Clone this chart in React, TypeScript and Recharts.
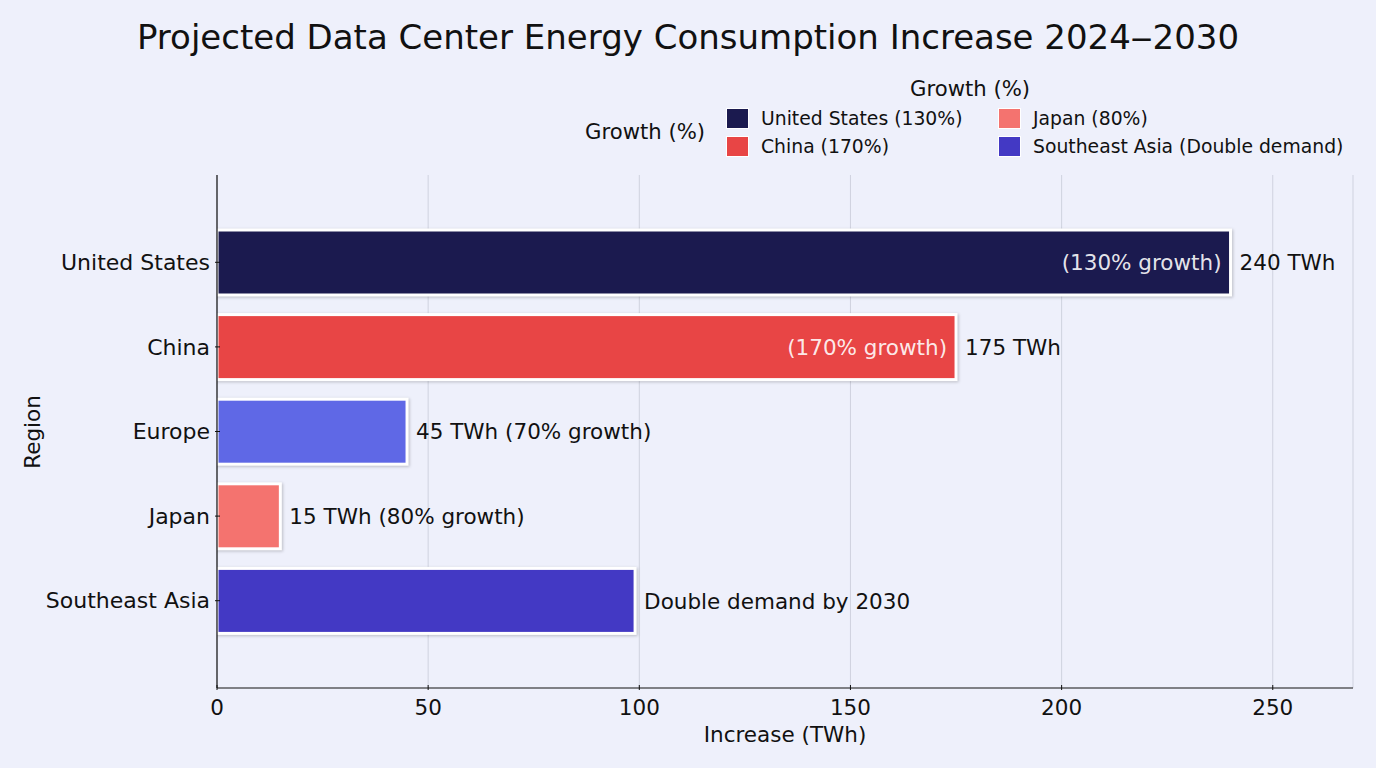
import React from 'react';
import {
  BarChart,
  Bar,
  XAxis,
  YAxis,
  CartesianGrid,
  Cell,
  LabelList,
} from 'recharts';

const regions = ['United States', 'China', 'Europe', 'Japan', 'Southeast Asia'];
const increases = [240, 175, 45, 15, 99];
const insideLabels = ['(130% growth)', '(170% growth)', '', '', ''];
const outsideLabels = ['240 TWh', '175 TWh', '45 TWh (70% growth)', '15 TWh (80% growth)', 'Double demand by 2030'];
const barColors = ['#1b1a4f', '#e84545', '#5f68e6', '#f4736f', '#4339c4'];
const xTicks = [0, 50, 100, 150, 200, 250];

const legendItems = [
  { label: 'United States (130%)', color: '#1b1a4f' },
  { label: 'China (170%)', color: '#e84545' },
  { label: 'Japan (80%)', color: '#f4736f' },
  { label: 'Southeast Asia (Double demand)', color: '#4339c4' },
];

const FONT = "'DejaVu Sans', sans-serif";
const BG = '#eef0fb';
const TEXT = '#111';
const LABEL_SIZE = 21.5;

const data = regions.map((region, i) => ({
  region,
  increase: increases[i],
  inside: insideLabels[i],
  outside: outsideLabels[i],
}));

// bar with white edge and a soft drop shadow
const EdgedBar = (props: any) => {
  const { x, y, width, height, fill } = props;
  return (
    <rect
      x={x}
      y={y}
      width={width}
      height={height}
      fill={fill}
      stroke="#ffffff"
      strokeWidth={3}
      style={{ filter: 'drop-shadow(1.5px 1.5px 1.5px rgba(0,0,0,0.22))' }}
    />
  );
};

const YTick = (props: any) => {
  const { x, y, payload } = props;
  return (
    <g>
      <line x1={x} x2={x + 5} y1={y} y2={y} stroke={TEXT} strokeWidth={1} />
      <text x={x - 5} y={y} dy="0.35em" textAnchor="end" fontSize={22} fill={TEXT} fontFamily={FONT}>
        {payload.value}
      </text>
    </g>
  );
};

const XTick = (props: any) => {
  const { x, y, payload } = props;
  return (
    <g>
      <line x1={x} x2={x} y1={y} y2={y - 5} stroke={TEXT} strokeWidth={1} />
      <text x={x} y={y + 17} dy="0.35em" textAnchor="middle" fontSize={LABEL_SIZE} fill={TEXT} fontFamily={FONT}>
        {payload.value}
      </text>
    </g>
  );
};

const GrowthLegend = () => (
  <div style={{ position: 'absolute', left: 585, top: 76, width: 790, height: 100, color: TEXT }}>
    <div style={{ position: 'absolute', left: 325, top: 0, fontSize: 21.2 }}>Growth (%)</div>
    <div style={{ position: 'absolute', left: 0, top: 43, fontSize: 21.2 }}>Growth (%)</div>
    {legendItems.map((item, i) => {
      const col = Math.floor(i / 2);
      const row = i % 2;
      return (
        <div
          key={item.label}
          style={{
            position: 'absolute',
            left: 141 + col * 272,
            top: 32 + row * 28,
            display: 'flex',
            alignItems: 'center',
            fontSize: 18.8,
            whiteSpace: 'nowrap',
          }}
        >
          <span
            style={{
              display: 'inline-block',
              width: 21,
              height: 19,
              background: item.color,
              border: '1px solid #fff',
              marginRight: 12,
            }}
          />
          {item.label}
        </div>
      );
    })}
  </div>
);

export default function App() {
  return (
    <div
      style={{
        position: 'absolute',
        left: 0,
        top: 0,
        width: 1376,
        height: 768,
        background: BG,
        fontFamily: FONT,
      }}
    >
      <div
        style={{
          position: 'absolute',
          top: 17,
          width: 1376,
          textAlign: 'center',
          fontSize: 34,
          color: TEXT,
        }}
      >
        Projected Data Center Energy Consumption Increase 2024‒2030
      </div>
      <GrowthLegend />
      <div
        style={{
          position: 'absolute',
          left: 217,
          width: 1136,
          top: 722,
          textAlign: 'center',
          fontSize: LABEL_SIZE,
          color: TEXT,
        }}
      >
        Increase (TWh)
      </div>
      <div
        style={{
          position: 'absolute',
          left: 32,
          top: 432,
          transform: 'translate(-50%, -50%) rotate(-90deg)',
          fontSize: LABEL_SIZE,
          color: TEXT,
          whiteSpace: 'nowrap',
        }}
      >
        Region
      </div>
      <div style={{ position: 'absolute', left: 0, top: 0 }}>
        <BarChart
          width={1376}
          height={768}
          data={data}
          layout="vertical"
          margin={{ top: 175, right: 23, bottom: 50, left: 0 }}
        >
          <CartesianGrid horizontal={false} stroke="#cfd2df" strokeWidth={1} />
          <XAxis
            type="number"
            domain={[0, 269]}
            ticks={xTicks}
            allowDataOverflow
            height={30}
            tick={<XTick />}
            tickLine={false}
            tickSize={0}
            axisLine={{ stroke: TEXT, strokeWidth: 1.2 }}
          />
          <YAxis
            type="category"
            dataKey="region"
            width={217}
            padding={{ top: 45, bottom: 45 }}
            tick={<YTick />}
            tickLine={false}
            tickSize={0}
            axisLine={{ stroke: TEXT, strokeWidth: 1.2 }}
          />
          <Bar dataKey="increase" barSize={65} shape={<EdgedBar />} isAnimationActive={false}>
            {data.map((d, i) => (
              <Cell key={d.region} fill={barColors[i]} />
            ))}
            <LabelList
              dataKey="inside"
              position="insideRight"
              offset={9}
              fill="#ffffff"
              fillOpacity={0.9}
              fontSize={LABEL_SIZE}
              fontFamily={FONT}
            />
            <LabelList
              dataKey="outside"
              position="right"
              offset={9}
              fill={TEXT}
              fontSize={LABEL_SIZE}
              fontFamily={FONT}
            />
          </Bar>
        </BarChart>
      </div>
    </div>
  );
}
